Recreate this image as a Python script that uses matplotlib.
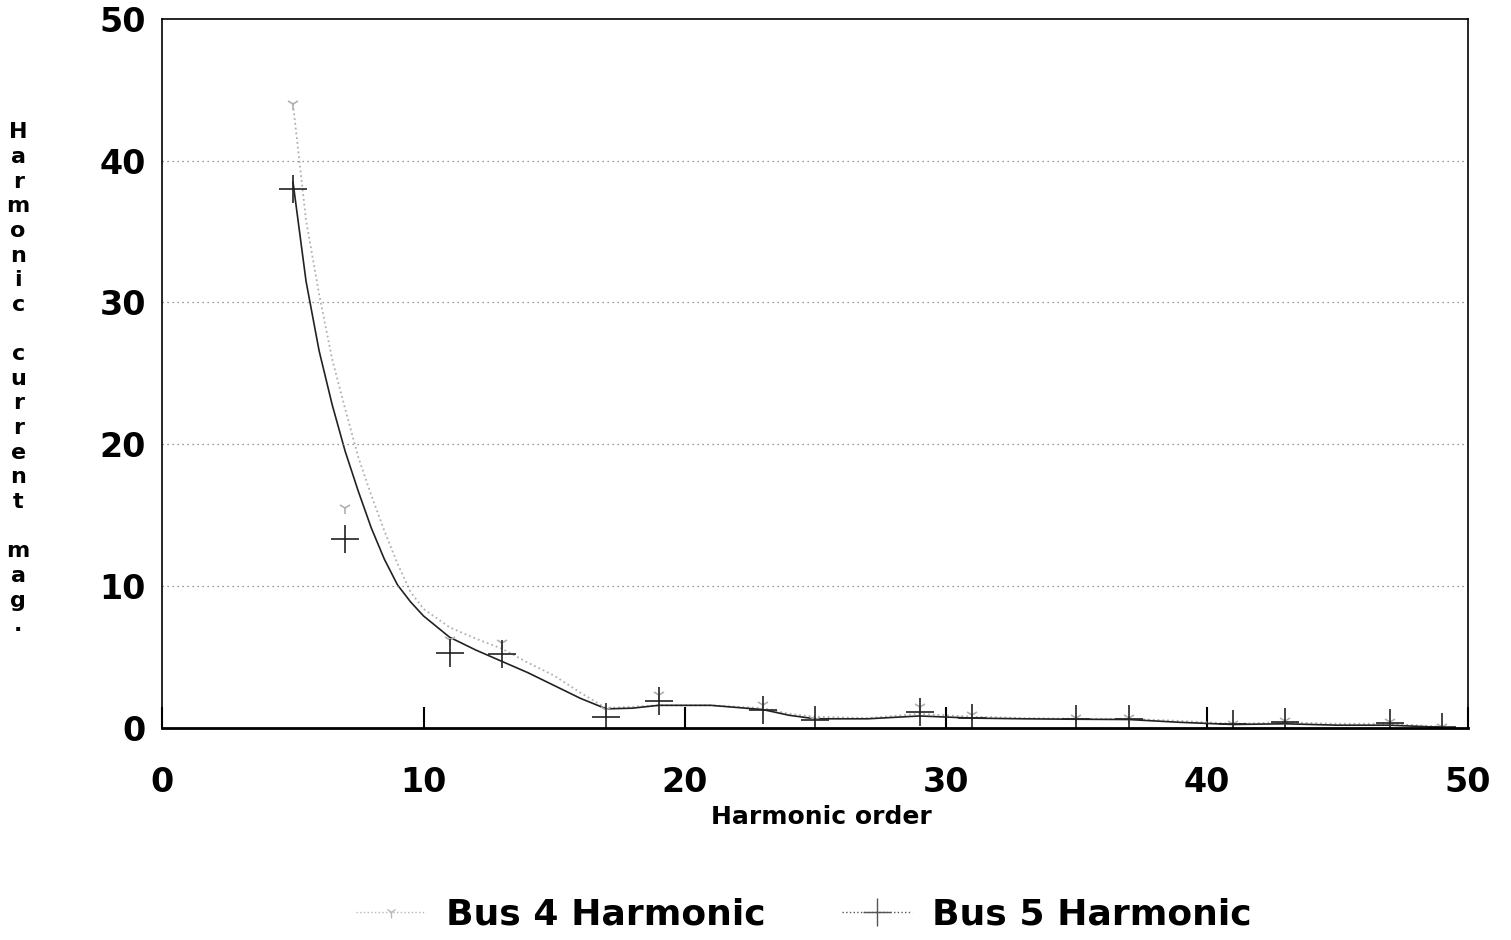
import matplotlib
matplotlib.use("Agg")
import matplotlib.pyplot as plt

# harmonic orders with plotted samples
orders = [5, 7, 11, 13, 17, 19, 23, 25, 29, 31, 35, 37, 41, 43, 47, 49]
bus4_points = [44.0, 15.5, 6.2, 6.0, 1.3, 2.3, 1.6, 0.6, 1.5, 0.9, 0.7, 0.7, 0.3, 0.5, 0.4, 0.1]
bus5_points = [38.0, 13.3, 5.3, 5.2, 0.8, 1.9, 1.3, 0.55, 1.1, 0.7, 0.65, 0.65, 0.3, 0.4, 0.35, 0.05]

# smoothed trend lines
curve_x = [5, 5.5, 6, 6.5, 7, 7.5, 8, 8.5, 9, 9.5, 10, 11, 12, 13, 14, 15, 16, 17, 18,
           19, 21, 23, 24, 25, 27, 29, 31, 33, 35, 37, 39, 41, 43, 45, 47, 49]
bus4_curve = [44.0, 35.8, 30.6, 26.0, 22.5, 19.1, 16.4, 13.9, 11.6, 9.6, 8.4, 7.1, 6.3, 5.6,
              4.6, 3.7, 2.5, 1.4, 1.5, 1.6, 1.6, 1.4, 1.0, 0.8, 0.7, 1.0, 0.8, 0.7, 0.65,
              0.65, 0.5, 0.3, 0.4, 0.3, 0.3, 0.1]
bus5_curve = [38.5, 31.5, 26.6, 22.8, 19.5, 16.7, 14.1, 11.9, 10.1, 8.9, 7.9, 6.4, 5.5, 4.7,
              3.9, 3.0, 2.1, 1.35, 1.4, 1.6, 1.6, 1.3, 0.9, 0.65, 0.65, 0.85, 0.7, 0.65, 0.62,
              0.6, 0.4, 0.25, 0.3, 0.2, 0.2, 0.05]

xticks = [0, 10, 20, 30, 40, 50]
yticks = [0, 10, 20, 30, 40, 50]

plt.rcParams['font.family'] = ['DejaVu Sans']

fig = plt.figure(figsize=(15.11, 9.40), dpi=100)
ax = fig.add_axes([0.1075, 0.2255, 0.864, 0.7545])

ax.plot(curve_x, bus4_curve, color='#b0b0b0', lw=1.3, ls=':')
ax.plot(curve_x, bus5_curve, color='#222222', lw=1.2)
ax.plot(orders, bus4_points, ls='none', marker='1', ms=9, color='#b0b0b0', mew=1.2)
ax.plot(orders, bus5_points, ls='none', marker='+', ms=20, color='#222222', mew=1.2)

# legend handles
h4, = ax.plot([], [], color='#b8b8b8', lw=1.0, ls=':', marker='1', ms=8)
h5, = ax.plot([], [], color='#555555', lw=1.0, ls=':', marker='+', ms=20)

ax.set_xlim(0, 50)
ax.set_ylim(0, 50)
ax.set_xticks(xticks)
ax.set_yticks(yticks)
ax.tick_params(axis='x', direction='in', length=15, width=1.5, labelsize=24, pad=27)
ax.tick_params(axis='y', length=0, labelsize=24, pad=12)
for lab in ax.get_xticklabels() + ax.get_yticklabels():
    lab.set_fontweight('bold')

for yv in yticks[1:-1]:
    ax.axhline(yv, color='#777777', lw=0.9, ls=(0, (1, 3)))

for side in ['top', 'right', 'left']:
    ax.spines[side].set_linewidth(1.2)
ax.spines['bottom'].set_linewidth(2.0)

ax.set_xlabel('Harmonic order', fontsize=18, fontweight='bold')
ax.xaxis.set_label_coords(0.505, -0.109)

ylab = 'Harmonic current mag.'
fig.text(0.012, 0.597, '\n'.join(ylab), ha='center', va='center', fontsize=16,
         fontweight='bold', linespacing=1.29)

fig.legend([h4, h5], ['Bus 4 Harmonic', 'Bus 5 Harmonic'], loc='center',
           bbox_to_anchor=(0.532, 0.027), ncol=2, frameon=False,
           prop={'size': 26, 'weight': 'bold'},
           handlelength=1.95, columnspacing=2.1, handletextpad=0.55)

fig.savefig('out.png', dpi=100)
